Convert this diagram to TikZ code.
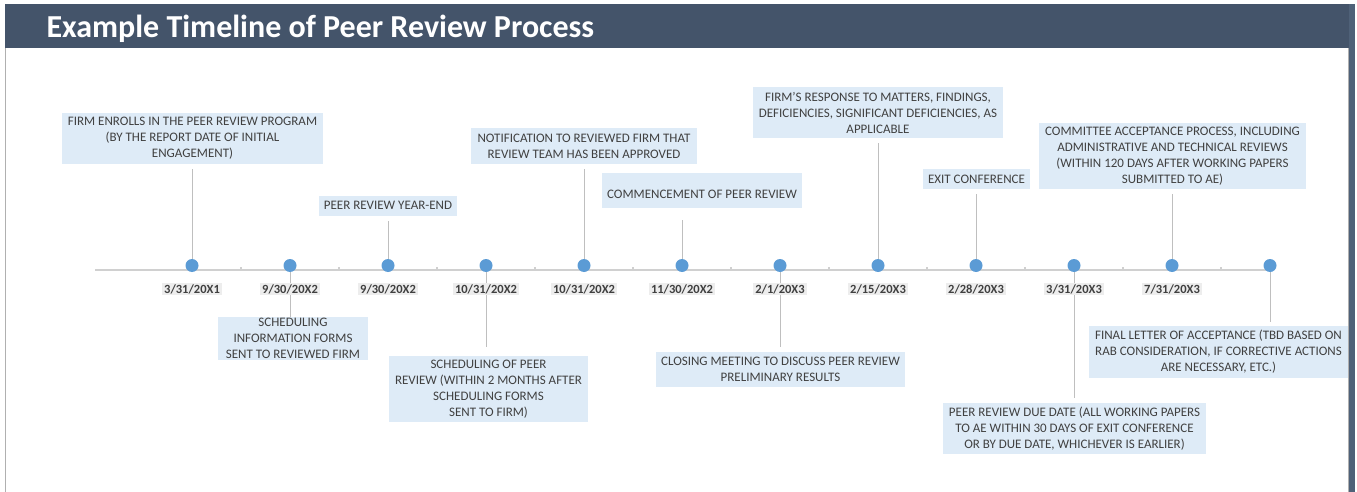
\documentclass[tikz,border=0pt]{standalone}
\usepackage{fontspec}
\setmainfont{Carlito}
\usetikzlibrary{backgrounds}
\definecolor{barfill}{HTML}{44546A}
\definecolor{edgefill}{HTML}{4F6178}
\definecolor{frameline}{HTML}{B0B0B0}
\definecolor{evfill}{HTML}{DEEBF7}
\definecolor{dotfill}{HTML}{5B9BD5}
\definecolor{stemline}{HTML}{BFBFBF}
\definecolor{axisline}{HTML}{D0D0D0}
\definecolor{datefill}{HTML}{EDEDED}
\definecolor{evtext}{HTML}{404040}
\tikzset{
  evbox/.style  = {rectangle, fill=evfill, align=center, text=evtext,
                   font=\fontsize{13}{16}\selectfont, inner sep=0pt},
  evdot/.style  = {circle, fill=dotfill, minimum size=13pt, inner sep=0pt},
  datelbl/.style= {rectangle, fill=datefill, text=evtext,
                   font=\fontsize{12.5}{14}\selectfont\bfseries, inner xsep=2pt, inner ysep=1.5pt},
  stem/.style   = {draw=stemline, line width=1pt, shorten >=5pt},
  axisln/.style = {draw=axisline, line width=1.5pt},
  titletxt/.style={text=white, font=\fontsize{32}{34}\selectfont\bfseries, anchor=west},
}

\begin{document}
\begin{tikzpicture}[x=1pt, y=-1pt]
    \useasboundingbox (0,0) rectangle (1357,492);
    \fill[barfill] (5,4) rectangle (1350,48);
    \fill[edgefill] (1349,4) rectangle (1355,492);
    \draw[frameline] (5,48) -- (5,492);
    \draw[frameline] (1348,48) -- (1348,492);
    \node[titletxt] (title) at (43,28.5) {Example Timeline of Peer Review Process};

    % markers and dates
    \foreach \i in {1,...,12}
        \node[evdot] (d\i) at ({94+98*\i},265.5) {};
    \foreach \d [count=\i] in {3/31/20X1, 9/30/20X2, 9/30/20X2, 10/31/20X2, 10/31/20X2, 11/30/20X2,
                               2/1/20X3, 2/15/20X3, 2/28/20X3, 3/31/20X3, 7/31/20X3}
        \node[datelbl] (t\i) at ({94+98*\i},289) {\d};

    % events above the line
    \node[evbox, minimum width=261, minimum height=51] (b1) at (192.5,138.5)
        {FIRM ENROLLS IN THE PEER REVIEW PROGRAM\\(BY THE REPORT DATE OF INITIAL\\ENGAGEMENT)};
    \node[evbox, minimum width=138, minimum height=20] (b2) at (388,205.5)
        {PEER REVIEW YEAR-END};
    \node[evbox, minimum width=226, minimum height=36] (b5) at (584,146)
        {NOTIFICATION TO REVIEWED FIRM THAT\\REVIEW TEAM HAS BEEN APPROVED};
    \node[evbox, minimum width=200, minimum height=35] (b6) at (702,190.5)
        {\mbox{}\\COMMENCEMENT OF PEER REVIEW};
    \node[evbox, minimum width=250, minimum height=51] (b8) at (878,112.5)
        {FIRM'S RESPONSE TO MATTERS, FINDINGS,\\DEFICIENCIES, SIGNIFICANT DEFICIENCIES, AS\\APPLICABLE};
    \node[evbox, minimum width=107, minimum height=20] (b9) at (976.5,179)
        {EXIT CONFERENCE};
    \node[evbox, minimum width=267, minimum height=66] (b10) at (1172.5,156)
        {COMMITTEE ACCEPTANCE PROCESS, INCLUDING\\ADMINISTRATIVE AND TECHNICAL REVIEWS\\(WITHIN 120 DAYS AFTER WORKING PAPERS\\SUBMITTED TO AE)};

    % events below the line
    \node[evbox, minimum width=150, minimum height=43] (b3) at (293,338.5)
        {SCHEDULING\\INFORMATION FORMS\\SENT TO REVIEWED FIRM};
    \node[evbox, minimum width=199, minimum height=66] (b4) at (488.5,389)
        {SCHEDULING OF PEER\\REVIEW (WITHIN 2 MONTHS AFTER\\SCHEDULING FORMS\\SENT TO FIRM)};
    \node[evbox, minimum width=249, minimum height=35] (b7) at (780.5,369.5)
        {CLOSING MEETING TO DISCUSS PEER REVIEW\\PRELIMINARY RESULTS};
    \node[evbox, minimum width=263, minimum height=51] (b11) at (1074.5,428.5)
        {PEER REVIEW DUE DATE (ALL WORKING PAPERS\\TO AE WITHIN 30 DAYS OF EXIT CONFERENCE\\OR BY DUE DATE, WHICHEVER IS EARLIER)};
    \node[evbox, minimum width=259, minimum height=52] (b12) at (1218.5,352)
        {FINAL LETTER OF ACCEPTANCE (TBD BASED ON\\RAB CONSIDERATION, IF CORRECTIVE ACTIONS\\ARE NECESSARY, ETC.)};

    \begin{scope}[on background layer]
        \coordinate (axstart) at (95,270);
        \draw[axisln] (axstart) -- (d12 |- axstart);
        \foreach \i in {1,...,11}
            \draw[axisln] ({143+98*\i},270) -- ++(0,-3);
        \draw[stem] (d1.center) -- (d1 |- b1.south);
        \draw[stem] (d3.center) -- (d3 |- b2.south);
        \draw[stem] (d5.center) -- (d5 |- b5.south);
        \draw[stem, shorten >=12pt] (d6.center) -- (d6 |- b6.south);
        \draw[stem] (d8.center) -- (d8 |- b8.south);
        \draw[stem] (d9.center) -- (d9 |- b9.south);
        \draw[stem] (d11.center) -- (d11 |- b10.south);
        \draw[stem, shorten >=0pt] (d2.center) -- (d2 |- b3.north);
        \draw[stem, shorten >=9pt] (d4.center) -- (d4 |- b4.north);
        \draw[stem] (d7.center) -- (d7 |- b7.north);
        \draw[stem] (d10.center) -- (d10 |- b11.north);
        \draw[stem, shorten >=4pt] (d12.center) -- (d12 |- b12.north);
    \end{scope}
\end{tikzpicture}
\end{document}
